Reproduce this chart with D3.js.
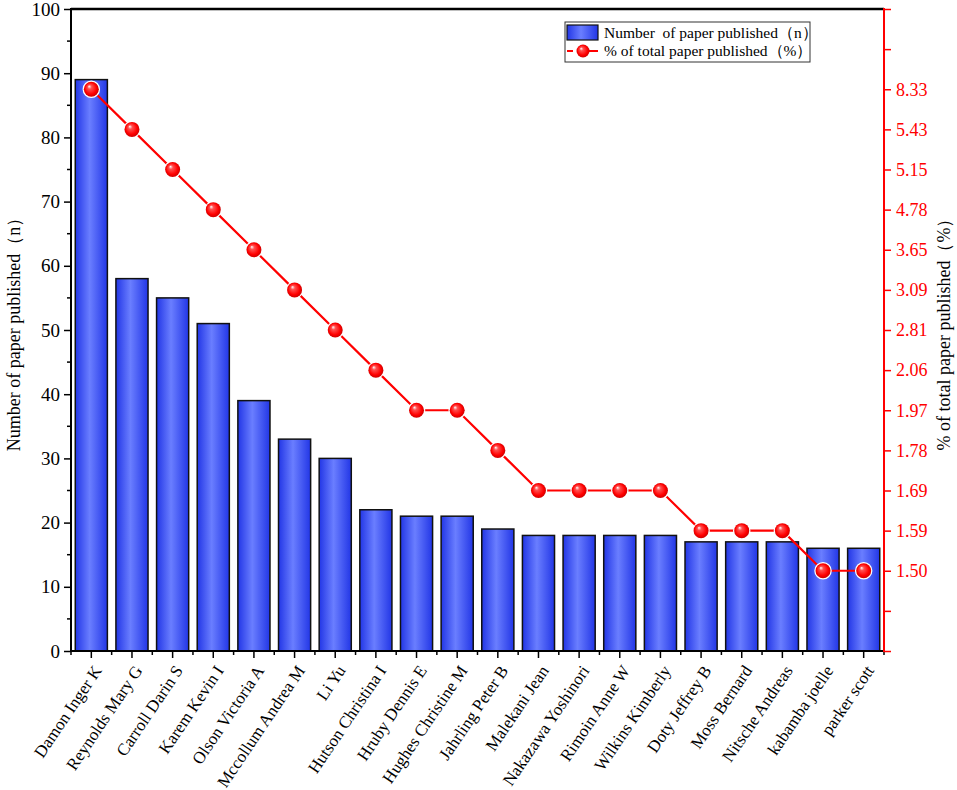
<!DOCTYPE html>
<html>
<head>
<meta charset="utf-8">
<script src="https://cdn.jsdelivr.net/npm/d3@7"></script>
<style>
  body { margin: 0; background: #fff; }
  svg text { font-family: "Liberation Serif", "Times New Roman", "DejaVu Serif", serif !important; }
</style>
</head>
<body>
<div id="container"></div>
<script>
// datos
var authors = ["Damon Inger K", "Reynolds Mary G", "Carroll Darin S", "Karem Kevin I",
  "Olson Victoria A", "Mccollum Andrea M", "Li Yu", "Hutson Christina I", "Hruby Dennis E",
  "Hughes Christine M", "Jahrling Peter B", "Malekani Jean", "Nakazawa Yoshinori",
  "Rimoin Anne W", "Wilkins Kimberly", "Doty Jeffrey B", "Moss Bernard", "Nitsche Andreas",
  "kabamba joelle", "parker scott"];
var papers = [89, 58, 55, 51, 39, 33, 30, 22, 21, 21, 19, 18, 18, 18, 18, 17, 17, 17, 16, 16];
var percents = ["8.33", "5.43", "5.15", "4.78", "3.65", "3.09", "2.81", "2.06", "1.97", "1.97",
  "1.78", "1.69", "1.69", "1.69", "1.69", "1.59", "1.59", "1.59", "1.50", "1.50"];
// etiquetas del eje derecho (de abajo hacia arriba), "" = marca sin texto
var pctTicks = ["", "", "1.50", "1.59", "1.69", "1.78", "1.97", "2.06", "2.81", "3.09",
  "3.65", "4.78", "5.15", "5.43", "8.33", "", ""];

var W = 957, H = 790;
var margin = { top: 9, right: 73, bottom: 139, left: 71 };
var x0 = margin.left, x1 = W - margin.right, y0 = H - margin.bottom, y1 = margin.top;
var serif = "'Liberation Serif', 'Times New Roman', 'DejaVu Serif', serif";

var svg = d3.select("#container").append("svg")
  .attr("width", W).attr("height", H);

var defs = svg.append("defs");
var grad = defs.append("linearGradient").attr("id", "barGrad")
  .attr("x1", "0%").attr("x2", "100%").attr("y1", "0%").attr("y2", "0%");
grad.append("stop").attr("offset", "0%").attr("stop-color", "#2236e6");
grad.append("stop").attr("offset", "45%").attr("stop-color", "#6a7eff");
grad.append("stop").attr("offset", "100%").attr("stop-color", "#2236e6");

var ball = defs.append("radialGradient").attr("id", "ballGrad")
  .attr("cx", "50%").attr("cy", "50%").attr("r", "55%")
  .attr("fx", "35%").attr("fy", "30%");
ball.append("stop").attr("offset", "0%").attr("stop-color", "#ffffff");
ball.append("stop").attr("offset", "25%").attr("stop-color", "#ff5050");
ball.append("stop").attr("offset", "70%").attr("stop-color", "#ff0000");
ball.append("stop").attr("offset", "100%").attr("stop-color", "#c00000");

// escalas
var x = d3.scaleBand().domain(authors).range([x0, x1])
  .paddingInner(0.21).paddingOuter(0.105);
var y = d3.scaleLinear().domain([0, 100]).range([y0, y1]);
var y2 = d3.scaleLinear().domain([0, pctTicks.length - 1]).range([y0, y1]);

function pctY(p) { return y2(pctTicks.indexOf(p)); }

// barras
svg.append("g").selectAll("rect")
  .data(papers)
  .enter().append("rect")
  .attr("x", function (d, i) { return x(authors[i]); })
  .attr("y", function (d) { return y(d); })
  .attr("width", x.bandwidth())
  .attr("height", function (d) { return y0 - y(d); })
  .attr("fill", "url(#barGrad)")
  .attr("stroke", "#111")
  .attr("stroke-width", 1.5);

// linea de porcentajes
var line = d3.line()
  .x(function (d, i) { return x(authors[i]) + x.bandwidth() / 2; })
  .y(function (d) { return pctY(d); });

svg.append("path").datum(percents)
  .attr("d", line)
  .attr("fill", "none")
  .attr("stroke", "#ff0000")
  .attr("stroke-width", 2.2);

svg.append("g").selectAll("circle")
  .data(percents)
  .enter().append("circle")
  .attr("cx", function (d, i) { return x(authors[i]) + x.bandwidth() / 2; })
  .attr("cy", function (d) { return pctY(d); })
  .attr("r", 7.5)
  .attr("fill", "url(#ballGrad)")
  .attr("stroke", "#fff")
  .attr("stroke-width", 2.5)
  .attr("paint-order", "stroke");

// eje izquierdo
var yAxis = svg.append("g").attr("transform", "translate(" + x0 + ",0)")
  .call(d3.axisLeft(y).tickValues(d3.range(0, 101, 10)).tickSize(7).tickPadding(4));
yAxis.attr("font-family", serif).attr("font-size", 19);
yAxis.selectAll("text").attr("fill", "#000");
yAxis.selectAll("line").attr("stroke-width", 1.5);
yAxis.select(".domain").remove();
svg.append("g").selectAll("line").data(d3.range(5, 100, 10)).enter().append("line")
  .attr("x1", x0 - 4).attr("x2", x0)
  .attr("y1", function (d) { return y(d); }).attr("y2", function (d) { return y(d); })
  .attr("stroke", "#000").attr("stroke-width", 1.5);
svg.append("line").attr("x1", x0).attr("x2", x0).attr("y1", y1 - 1).attr("y2", y0 + 1)
  .attr("stroke", "#000").attr("stroke-width", 2);

// eje inferior
var xAxis = svg.append("g").attr("transform", "translate(0," + y0 + ")")
  .call(d3.axisBottom(x).tickSize(7).tickPadding(4));
xAxis.attr("font-family", serif).attr("font-size", 17);
xAxis.select(".domain").remove();
xAxis.selectAll("line").attr("stroke-width", 1.5);
xAxis.selectAll("text")
  .attr("fill", "#000")
  .attr("text-anchor", "end")
  .attr("dy", "0.35em")
  .attr("transform", "translate(-3,10) rotate(-56)");
// marcas menores entre categorias
svg.append("g").selectAll("line").data(d3.range(authors.length + 1)).enter().append("line")
  .attr("x1", function (i) { return x0 + i * x.step(); })
  .attr("x2", function (i) { return x0 + i * x.step(); })
  .attr("y1", y0).attr("y2", y0 + 4)
  .attr("stroke", "#000").attr("stroke-width", 1.5);
svg.append("line").attr("x1", x0).attr("x2", x1).attr("y1", y0).attr("y2", y0)
  .attr("stroke", "#000").attr("stroke-width", 2);

// borde superior
svg.append("line").attr("x1", x0).attr("x2", x1).attr("y1", y1).attr("y2", y1)
  .attr("stroke", "#000").attr("stroke-width", 2.5);

// eje derecho
var rAxis = svg.append("g").attr("transform", "translate(" + x1 + ",0)")
  .call(d3.axisRight(y2).tickValues(d3.range(pctTicks.length))
    .tickFormat(function (i) { return pctTicks[i]; })
    .tickSize(7).tickPadding(5));
rAxis.attr("font-family", serif).attr("font-size", 18);
rAxis.select(".domain").remove();
rAxis.selectAll("line").attr("stroke", "#ff0000").attr("stroke-width", 1.5);
rAxis.selectAll("text").attr("fill", "#ff0000");
svg.append("line").attr("x1", x1).attr("x2", x1).attr("y1", y1 - 1).attr("y2", y0 + 1)
  .attr("stroke", "#ff0000").attr("stroke-width", 2);

// titulos de ejes
svg.append("text")
  .attr("transform", "translate(14," + ((y0 + y1) / 2) + ") rotate(-90)")
  .attr("text-anchor", "middle").attr("dy", "0.35em")
  .attr("font-size", 18).attr("font-family", serif)
  .text("Number of paper published（n）");
svg.append("text")
  .attr("transform", "translate(944," + ((y0 + y1) / 2) + ") rotate(-90)")
  .attr("text-anchor", "middle").attr("dy", "0.35em")
  .attr("font-size", 18).attr("font-family", serif)
  .text("% of total paper published（%）");

// leyenda
var leg = svg.append("g").attr("transform", "translate(565,22)")
  .attr("font-family", serif).attr("font-size", 15.5);
leg.append("rect").attr("width", 245).attr("height", 40)
  .attr("fill", "#fff").attr("stroke", "#333").attr("stroke-width", 1);
leg.append("rect").attr("x", 2).attr("y", 3).attr("width", 31).attr("height", 15)
  .attr("fill", "url(#barGrad)").attr("stroke", "#111").attr("stroke-width", 1.2);
leg.append("text").attr("x", 39).attr("y", 16)
  .attr("xml:space", "preserve")
  .text("Number  of paper published（n）");
leg.append("line").attr("x1", 2).attr("x2", 33).attr("y1", 29).attr("y2", 29)
  .attr("stroke", "#ff0000").attr("stroke-width", 2.2).attr("stroke-dasharray", "6,14,20");
leg.append("circle").attr("cx", 18).attr("cy", 29).attr("r", 6.5)
  .attr("fill", "url(#ballGrad)");
leg.append("text").attr("x", 39).attr("y", 34)
  .text("% of total paper published（%）");
</script>
</body>
</html>
